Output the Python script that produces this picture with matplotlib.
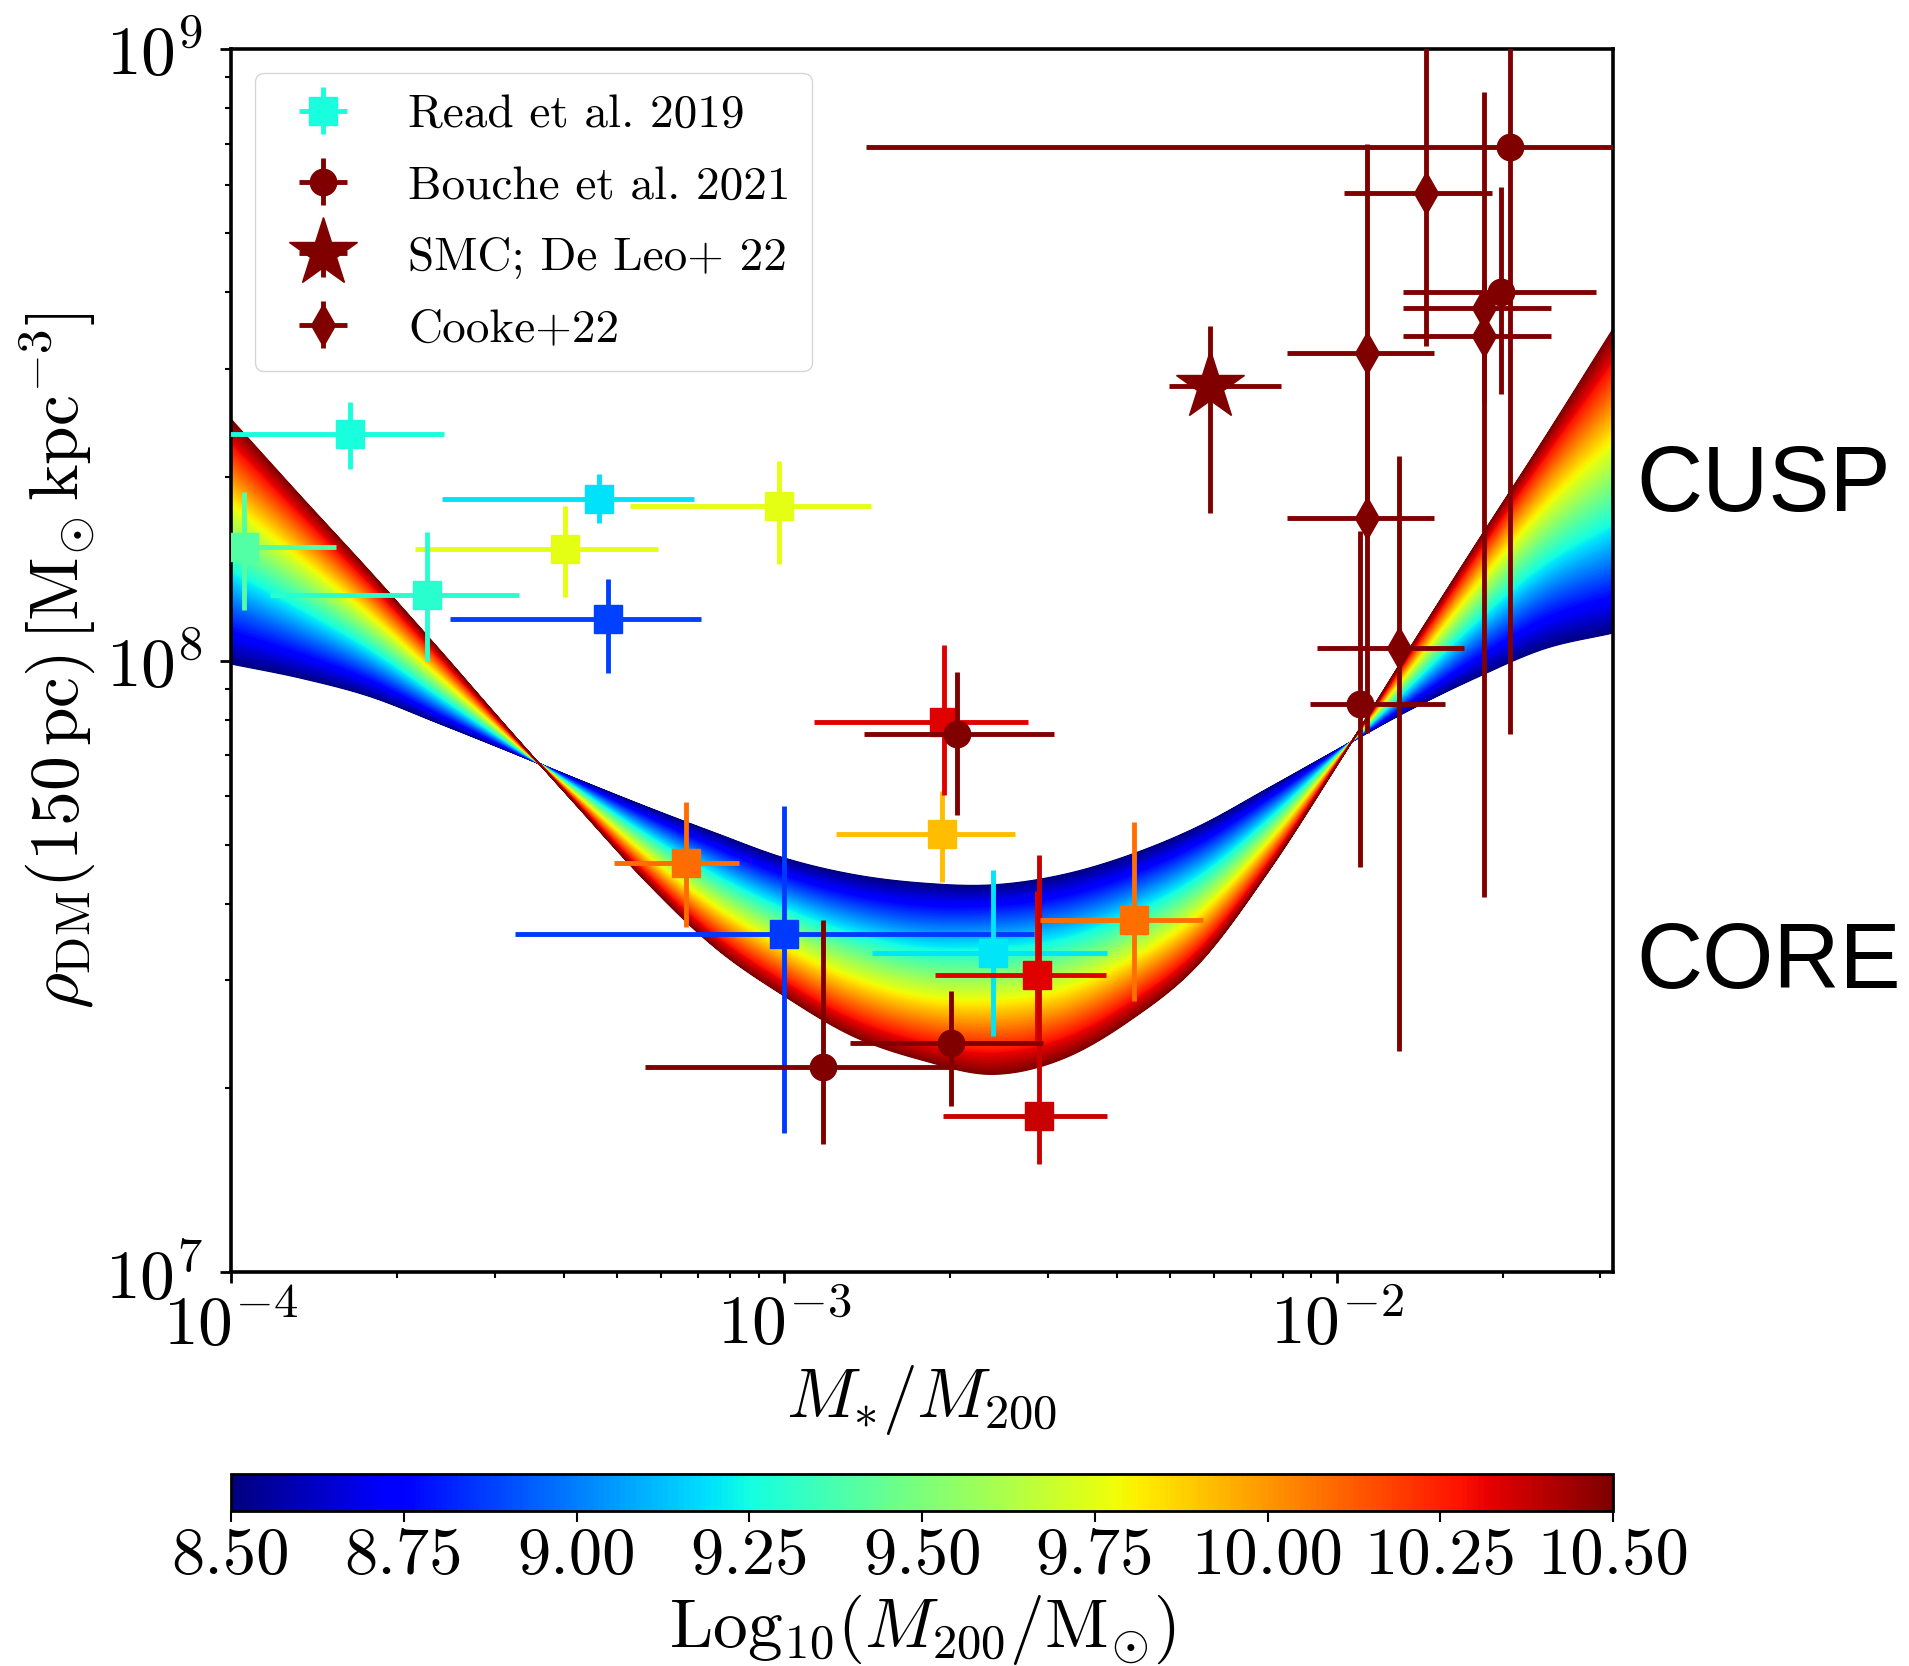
import numpy as np
import matplotlib
matplotlib.use("Agg")
import matplotlib.pyplot as plt
from matplotlib.colors import Normalize
from matplotlib.cm import ScalarMappable

plt.rcParams['font.family'] = 'serif'
plt.rcParams['font.serif'] = ['cmr10', 'DejaVu Serif']
plt.rcParams['mathtext.fontset'] = 'cm'
plt.rcParams['axes.formatter.use_mathtext'] = True
plt.rcParams['axes.unicode_minus'] = False

# ---------------- model band: log10 rho(150pc) ----------------
band_logx = [-4.0, -3.875, -3.75, -3.625, -3.5, -3.375, -3.25, -3.125, -3.0, -2.875,
             -2.75, -2.625, -2.5, -2.375, -2.25, -2.125, -2.0, -1.875, -1.75, -1.625, -1.5]
band_logy_m85 = [7.995, 7.972, 7.942, 7.898, 7.853, 7.807, 7.762, 7.719, 7.678, 7.651,
                 7.637, 7.634, 7.650, 7.683, 7.730, 7.792, 7.855, 7.917, 7.972, 8.020, 8.046]
band_logy_m95 = [8.200, 8.125, 8.047, 7.959, 7.872, 7.785, 7.700, 7.625, 7.565, 7.519,
                 7.492, 7.490, 7.505, 7.550, 7.618, 7.722, 7.843, 7.966, 8.092, 8.205, 8.290]
band_logy_m105 = [8.395, 8.270, 8.147, 8.020, 7.890, 7.763, 7.639, 7.531, 7.452, 7.386,
                  7.347, 7.324, 7.348, 7.412, 7.505, 7.655, 7.830, 8.012, 8.190, 8.365, 8.545]
band_logM_min, band_logM_max = 8.5, 10.5

# ---------------- Read et al. 2019 ----------------
read_x    = [1.64e-4, 4.63e-4, 9.8e-4, 4.02e-4, 1.057e-4, 2.26e-4, 4.80e-4, 1.0e-3,
             6.64e-4, 1.93e-3, 1.95e-3, 2.39e-3, 2.87e-3, 2.90e-3, 4.30e-3]
read_x_lo = [0.95e-4, 2.41e-4, 5.26e-4, 2.15e-4, 0.9e-4, 1.175e-4, 2.49e-4, 3.27e-4,
             4.92e-4, 1.243e-3, 1.135e-3, 1.446e-3, 1.873e-3, 1.94e-3, 2.91e-3]
read_x_hi = [2.43e-4, 6.88e-4, 1.44e-3, 5.91e-4, 1.55e-4, 3.32e-4, 7.09e-4, 2.84e-3,
             8.29e-4, 2.62e-3, 2.77e-3, 3.84e-3, 3.82e-3, 3.84e-3, 5.73e-3]
read_y    = [2.35e8, 1.84e8, 1.79e8, 1.52e8, 1.535e8, 1.28e8, 1.17e8, 3.57e7,
             4.66e7, 5.20e7, 7.93e7, 3.32e7, 3.06e7, 1.80e7, 3.76e7]
read_y_lo = [2.06e8, 1.68e8, 1.44e8, 1.27e8, 1.21e8, 1.0e8, 9.53e7, 1.69e7,
             3.67e7, 4.35e7, 6.03e7, 2.43e7, 2.37e7, 1.50e7, 2.77e7]
read_y_hi = [2.65e8, 2.02e8, 2.12e8, 1.79e8, 1.89e8, 1.62e8, 1.36e8, 5.78e7,
             5.87e7, 6.11e7, 1.06e8, 4.54e7, 4.2e7, 4.81e7, 5.45e7]
read_logM = [9.26, 9.19, 9.75, 9.75, 9.40, 9.30, 8.875, 8.86,
             10.09, 9.915, 10.33, 9.20, 10.33, 10.37, 10.08]

# ---------------- Bouche et al. 2021 ----------------
bouche_x    = [2.06e-3, 2.01e-3, 1.175e-3, 2.06e-2, 1.98e-2, 1.10e-2]
bouche_x_lo = [1.397e-3, 1.32e-3, 5.62e-4, 1.41e-3, 1.32e-2, 8.95e-3]
bouche_x_hi = [3.08e-3, 2.94e-3, 2.06e-3, 5.0e-2, 2.94e-2, 1.57e-2]
bouche_y    = [7.58e7, 2.37e7, 2.16e7, 6.93e8, 4.0e8, 8.5e7]
bouche_y_lo = [5.6e7, 1.87e7, 1.62e7, 7.58e7, 2.73e8, 4.6e7]
bouche_y_hi = [9.57e7, 2.88e7, 3.76e7, 1.5e9, 5.96e8, 1.63e8]

# ---------------- SMC; De Leo+22 ----------------
smc_x, smc_x_lo, smc_x_hi = [5.91e-3], [4.97e-3], [7.93e-3]
smc_y, smc_y_lo, smc_y_hi = [2.81e8], [1.74e8], [3.52e8]

# ---------------- Cooke+22 ----------------
cooke_x    = [1.45e-2, 1.845e-2, 1.845e-2, 1.135e-2, 1.135e-2, 1.295e-2]
cooke_x_lo = [1.03e-2, 1.32e-2, 1.32e-2, 8.13e-3, 8.13e-3, 9.22e-3]
cooke_x_hi = [1.91e-2, 2.44e-2, 2.44e-2, 1.50e-2, 1.50e-2, 1.70e-2]
cooke_y    = [5.82e8, 3.77e8, 3.39e8, 3.19e8, 1.71e8, 1.05e8]
cooke_y_lo = [3.27e8, 4.1e7, 2.65e8, 1.71e8, 7.6e7, 2.30e7]
cooke_y_hi = [1.5e9, 8.52e8, 4.19e8, 7.0e8, 3.18e8, 2.16e8]

cbar_ticks = [8.50, 8.75, 9.00, 9.25, 9.50, 9.75, 10.00, 10.25, 10.50]
dark_red = '#800000'

# ---------------- figure ----------------
fig = plt.figure(figsize=(19.09, 16.66), dpi=100)
ax = fig.add_axes([0.121, 0.2365, 0.724, 0.734])
cax = fig.add_axes([0.121, 0.093, 0.724, 0.0222])

cmap = plt.get_cmap('jet')
norm = Normalize(band_logM_min, band_logM_max)


def catmull(xg, yg, xf):
    xg = np.asarray(xg); yg = np.asarray(yg)
    n = len(xg)
    m = np.zeros(n)
    m[1:-1] = (yg[2:] - yg[:-2]) / (xg[2:] - xg[:-2])
    m[0] = (yg[1] - yg[0]) / (xg[1] - xg[0])
    m[-1] = (yg[-1] - yg[-2]) / (xg[-1] - xg[-2])
    out = np.empty_like(xf)
    idx = np.clip(np.searchsorted(xg, xf) - 1, 0, n - 2)
    for k, xv in enumerate(xf):
        i = idx[k]
        h = xg[i + 1] - xg[i]
        t = (xv - xg[i]) / h
        h00 = 2 * t**3 - 3 * t**2 + 1
        h10 = t**3 - 2 * t**2 + t
        h01 = -2 * t**3 + 3 * t**2
        h11 = t**3 - t**2
        out[k] = h00 * yg[i] + h10 * h * m[i] + h01 * yg[i + 1] + h11 * h * m[i + 1]
    return out


xf = np.linspace(band_logx[0], band_logx[-1], 600)
yb = catmull(band_logx, band_logy_m85, xf)
ym = catmull(band_logx, band_logy_m95, xf)
yr = catmull(band_logx, band_logy_m105, xf)

levels = np.linspace(band_logM_min, band_logM_max, 201)
curves = []
for lm in levels:
    t = lm - 9.5
    curves.append(ym + t * (yr - yb) / 2 + t**2 * (yr + yb - 2 * ym) / 2)
X = 10**xf
for i in range(len(levels) - 1):
    c = cmap(norm(0.5 * (levels[i] + levels[i + 1])))
    ax.fill_between(X, 10**curves[i], 10**curves[i + 1], facecolor=c, edgecolor=c,
                    lw=0.8, zorder=1)

ekw = dict(elinewidth=3.5, capsize=0, linestyle='none')


def err(v, lo, hi):
    v = np.asarray(v); return [v - np.asarray(lo), np.asarray(hi) - v]


for i in range(len(read_x)):
    c = cmap(norm(read_logM[i]))
    ax.errorbar([read_x[i]], [read_y[i]],
                xerr=err([read_x[i]], [read_x_lo[i]], [read_x_hi[i]]),
                yerr=err([read_y[i]], [read_y_lo[i]], [read_y_hi[i]]),
                fmt='s', color=c, ms=20, mec=c, zorder=3,
                label='Read et al. 2019' if i == 0 else None, **ekw)

ax.errorbar(bouche_x, bouche_y, xerr=err(bouche_x, bouche_x_lo, bouche_x_hi),
            yerr=err(bouche_y, bouche_y_lo, bouche_y_hi), fmt='o', color=dark_red,
            ms=19, zorder=4, label='Bouche et al. 2021', **ekw)
ax.errorbar(smc_x, smc_y, xerr=err(smc_x, smc_x_lo, smc_x_hi),
            yerr=err(smc_y, smc_y_lo, smc_y_hi), fmt='*', color=dark_red,
            ms=52, zorder=4, label='SMC; De Leo+ 22', **ekw)
ax.errorbar(cooke_x, cooke_y, xerr=err(cooke_x, cooke_x_lo, cooke_x_hi),
            yerr=err(cooke_y, cooke_y_lo, cooke_y_hi), fmt='d', color=dark_red,
            ms=21, zorder=4, label='Cooke+22', **ekw)

ax.set_xscale('log')
ax.set_yscale('log')
ax.set_xlim(1e-4, 10**-1.5)
ax.set_ylim(1e7, 1e9)

for s in ax.spines.values():
    s.set_linewidth(2.6)
ax.tick_params(which='major', length=8, width=2, labelsize=50, pad=6)
ax.tick_params(which='minor', length=4.5, width=1.5)
ax.tick_params(axis='y', which='major', pad=12)

ax.set_xlabel(r'$M_{*}/M_{200}$', fontsize=50, labelpad=4)
ax.set_ylabel(r'$\rho_{\rm DM}(150\,{\rm pc})\,[{\rm M_{\odot}\,kpc^{-3}}]$', fontsize=50,
              labelpad=6)

leg = ax.legend(loc='upper left', fontsize=34, labelspacing=0.62, borderpad=0.45,
                handletextpad=0.8, handlelength=2.0)

ax.text(1.017, 0.622, 'CUSP', transform=ax.transAxes, fontsize=66,
        family='Liberation Sans', ha='left', va='baseline')
ax.text(1.017, 0.232, 'CORE', transform=ax.transAxes, fontsize=66,
        family='Liberation Sans', ha='left', va='baseline')

sm = ScalarMappable(norm=norm, cmap=cmap)
cb = fig.colorbar(sm, cax=cax, orientation='horizontal', ticks=cbar_ticks, format='%.2f')
cb.outline.set_linewidth(2)
cax.tick_params(labelsize=48, length=8, width=1.5)
cb.set_label(r'${\rm Log}_{10}(M_{200}/{\rm M_{\odot}})$', fontsize=50, labelpad=4)

fig.savefig('out.png', dpi=100)
